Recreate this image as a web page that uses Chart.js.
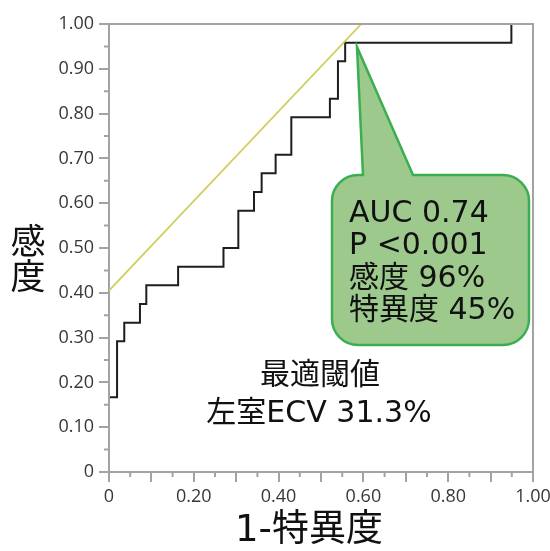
<!DOCTYPE html>
<html lang="ja">
<head>
    <meta charset="UTF-8">
    <title>ROC曲線 左室ECV</title>
    <script src="https://cdn.jsdelivr.net/npm/chart.js"></script>
    <style>
        body { margin: 0; background: #fff; }
        canvas { display: block; }
    </style>
</head>
<body>
    <canvas id="rocChart" width="550" height="551"></canvas>

    <script>
        // ROC曲線の頂点 (1-特異度, 感度) - 各点で縦に上がる
        const rocFpr = [0, 0, 0.019, 0.036, 0.073, 0.088, 0.163, 0.270, 0.305, 0.342, 0.360, 0.393, 0.430, 0.521, 0.540, 0.557, 0.949, 1.0];
        const rocTpr = [0, 0.167, 0.292, 0.333, 0.375, 0.417, 0.458, 0.500, 0.583, 0.625, 0.667, 0.708, 0.792, 0.833, 0.917, 0.958, 1.0, 1.0];

        // 最適閾値での接線
        const tangentX = [0, 0.595];
        const tangentY = [0.405, 1.0];

        // 目盛り
        const tickValues = [0, 0.1, 0.2, 0.3, 0.4, 0.5, 0.6, 0.7, 0.8, 0.9, 1.0];
        const xLabelValues = [0, 0.2, 0.4, 0.6, 0.8, 1.0];

        // テキスト
        const xTitle = '1-特異度';
        const yTitle = ['感', '度'];
        const boxLines = ['AUC 0.74', 'P <0.001', '感度 96%', '特異度 45%'];
        const cutoffLines = ['最適閾値', '左室ECV 31.3%'];

        const axisGray = '#a3a3a3';
        const labelFont = '"DejaVu Sans", "Noto Sans CJK JP", sans-serif';

        function toPoints(xs, ys) {
            return xs.map((x, i) => ({ x: x, y: ys[i] }));
        }

        function fmt(v) {
            if (Math.abs(v) < 1e-9) return '0';
            return v.toFixed(2);
        }

        // 枠線・補助目盛り・吹き出し・文字
        const extrasPlugin = {
            id: 'extras',
            afterDraw(chart) {
                const ctx = chart.ctx;
                const area = chart.chartArea;
                const xs = chart.scales.x;
                const ys = chart.scales.y;
                ctx.save();

                // 上と右の枠
                ctx.strokeStyle = axisGray;
                ctx.lineWidth = 2;
                ctx.beginPath();
                ctx.moveTo(area.left, area.top);
                ctx.lineTo(area.right, area.top);
                ctx.lineTo(area.right, area.bottom);
                ctx.stroke();

                // 0.05 ごとの小目盛り
                ctx.beginPath();
                for (let v = 0.05; v < 1; v += 0.1) {
                    const px = xs.getPixelForValue(v);
                    ctx.moveTo(px, area.bottom);
                    ctx.lineTo(px, area.bottom + 5);
                    const py = ys.getPixelForValue(v);
                    ctx.moveTo(area.left, py);
                    ctx.lineTo(area.left - 5, py);
                }
                ctx.stroke();

                // 吹き出し
                const bx = 332, by = 175, bw = 197, bh = 170, r = 26;
                ctx.beginPath();
                ctx.moveTo(bx + r, by);
                ctx.lineTo(363, by);
                ctx.lineTo(357, 47);
                ctx.lineTo(413, by);
                ctx.lineTo(bx + bw - r, by);
                ctx.arcTo(bx + bw, by, bx + bw, by + r, r);
                ctx.lineTo(bx + bw, by + bh - r);
                ctx.arcTo(bx + bw, by + bh, bx + bw - r, by + bh, r);
                ctx.lineTo(bx + r, by + bh);
                ctx.arcTo(bx, by + bh, bx, by + bh - r, r);
                ctx.lineTo(bx, by + r);
                ctx.arcTo(bx, by, bx + r, by, r);
                ctx.closePath();
                ctx.fillStyle = '#9dc98d';
                ctx.fill();
                ctx.strokeStyle = '#3cae52';
                ctx.lineWidth = 2.5;
                ctx.stroke();

                ctx.fillStyle = '#111';
                ctx.textBaseline = 'middle';

                // 吹き出し内の文字
                ctx.font = '30px ' + labelFont;
                ctx.textAlign = 'left';
                boxLines.forEach((t, i) => {
                    ctx.fillText(t, 349, 214 + i * 32.5);
                });

                // 最適閾値
                ctx.textAlign = 'center';
                ctx.fillText(cutoffLines[0], 320, 376);
                ctx.fillText(cutoffLines[1], 319, 414);

                // 軸タイトル
                ctx.font = '35px "Noto Sans CJK JP", sans-serif';
                ctx.fillText(yTitle[0], 28, 241);
                ctx.fillText(yTitle[1], 28, 276);
                ctx.font = '37px ' + labelFont;
                ctx.fillText(xTitle, 309, 531);

                ctx.restore();
            }
        };

        function createChart() {
            const ctx = document.getElementById('rocChart').getContext('2d');
            new Chart(ctx, {
                type: 'line',
                data: {
                    datasets: [{
                        label: '接線',
                        data: toPoints(tangentX, tangentY),
                        borderColor: '#d2ce5e',
                        borderWidth: 1.8,
                        pointRadius: 0,
                        fill: false
                    }, {
                        label: 'ROC',
                        data: toPoints(rocFpr, rocTpr),
                        stepped: 'before',
                        borderColor: '#1e1e1e',
                        borderWidth: 2,
                        pointRadius: 0,
                        fill: false,
                        // 縦軸と重なる部分は軸の灰色のまま見せる
                        clip: { left: -1, top: 2, right: 2, bottom: 2 }
                    }]
                },
                options: {
                    responsive: false,
                    animation: false,
                    layout: { padding: { top: 24, right: 17, left: 0, bottom: 0 } },
                    plugins: {
                        legend: { display: false },
                        tooltip: { enabled: false }
                    },
                    scales: {
                        x: {
                            type: 'linear',
                            min: 0,
                            max: 1,
                            z: 1,
                            afterFit(scale) {
                                scale.height = 79;
                                scale.paddingLeft = 0;
                                scale.paddingRight = 0;
                            },
                            afterBuildTicks(scale) {
                                scale.ticks = tickValues.map(v => ({ value: v }));
                            },
                            ticks: {
                                autoSkip: false,
                                maxRotation: 0,
                                padding: 4,
                                color: '#383838',
                                font: { family: '"Open Sans", sans-serif', size: 18 },
                                callback(v) {
                                    const hit = xLabelValues.some(l => Math.abs(l - v) < 1e-6);
                                    return hit ? fmt(v) : '';
                                }
                            },
                            grid: { drawOnChartArea: false, tickLength: 10, color: axisGray, lineWidth: 2 },
                            border: { color: axisGray, width: 2 }
                        },
                        y: {
                            type: 'linear',
                            min: 0,
                            max: 1,
                            z: 1,
                            afterFit(scale) {
                                scale.width = 109;
                                scale.paddingTop = 0;
                                scale.paddingBottom = 0;
                            },
                            afterBuildTicks(scale) {
                                scale.ticks = tickValues.map(v => ({ value: v }));
                            },
                            ticks: {
                                padding: 5,
                                color: '#383838',
                                font: { family: '"Open Sans", sans-serif', size: 18 },
                                callback(v) { return fmt(v); }
                            },
                            grid: { drawOnChartArea: false, tickLength: 10, color: axisGray, lineWidth: 2 },
                            border: { color: axisGray, width: 2 }
                        }
                    }
                },
                plugins: [extrasPlugin]
            });
        }

        window.onload = createChart;
    </script>
</body>
</html>
